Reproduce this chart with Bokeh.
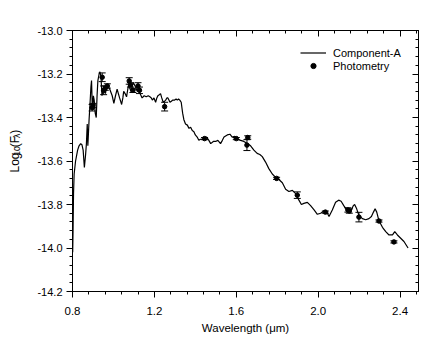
import math
from bokeh.plotting import figure
from bokeh.layouts import row
from bokeh.models import (ColumnDataSource, Whisker, TeeHead, LinearAxis, FixedTicker,
                          PrintfTickFormatter, Legend, LegendItem, CustomLabelingPolicy)
from bokeh.core.properties import value
from bokeh.embed import file_html
from bokeh.resources import INLINE

# ---- data ----
spec_wl = [0.801, 0.803, 0.805, 0.808, 0.815, 0.825, 0.832, 0.840, 0.846, 0.852, 0.858, 0.864,
           0.868, 0.872, 0.875, 0.879, 0.881, 0.886, 0.890, 0.893, 0.896, 0.899, 0.902, 0.906,
           0.911, 0.916, 0.920, 0.924, 0.930, 0.934, 0.939, 0.944, 0.950, 0.956, 0.961, 0.966,
           0.970, 0.976, 0.982, 0.988, 0.994, 1.002, 1.010, 1.018, 1.024, 1.030, 1.040, 1.046,
           1.050, 1.057, 1.064, 1.070, 1.075, 1.080, 1.085, 1.091, 1.097, 1.103, 1.108, 1.116,
           1.122, 1.130, 1.140, 1.150, 1.160, 1.170, 1.178, 1.185, 1.190, 1.198, 1.206, 1.212,
           1.217, 1.224, 1.230, 1.236, 1.243, 1.250, 1.255, 1.261, 1.266, 1.271, 1.276, 1.283,
           1.290, 1.299, 1.306, 1.312, 1.318, 1.324, 1.331, 1.338, 1.344, 1.352, 1.361, 1.369,
           1.377, 1.385, 1.393, 1.400, 1.409, 1.417, 1.425, 1.434, 1.442, 1.455, 1.466, 1.475,
           1.488, 1.499, 1.510, 1.523, 1.532, 1.540, 1.556, 1.569, 1.580, 1.592, 1.605, 1.621,
           1.637, 1.654, 1.670, 1.686, 1.702, 1.715, 1.727, 1.743, 1.759, 1.776, 1.792, 1.808,
           1.825, 1.841, 1.857, 1.874, 1.890, 1.906, 1.918, 1.930, 1.947, 1.963, 1.980, 1.996,
           2.012, 2.028, 2.045, 2.053, 2.069, 2.085, 2.100, 2.112, 2.125, 2.139, 2.150, 2.162,
           2.172, 2.178, 2.188, 2.199, 2.216, 2.232, 2.248, 2.260, 2.270, 2.278, 2.286, 2.297,
           2.314, 2.330, 2.346, 2.363, 2.374, 2.387, 2.403, 2.419, 2.439]
spec_flux = [-14.02, -13.90, -13.75, -13.66, -13.60, -13.55, -13.53, -13.52, -13.525, -13.55, -13.63, -13.57,
             -13.52, -13.43, -13.53, -13.45, -13.41, -13.33, -13.26, -13.23, -13.33, -13.36, -13.30, -13.32,
             -13.38, -13.40, -13.30, -13.23, -13.20, -13.19, -13.21, -13.30, -13.27, -13.28, -13.29, -13.26,
             -13.25, -13.26, -13.27, -13.285, -13.30, -13.335, -13.30, -13.27, -13.29, -13.31, -13.34, -13.31,
             -13.28, -13.29, -13.305, -13.27, -13.25, -13.265, -13.28, -13.26, -13.24, -13.25, -13.26, -13.28,
             -13.27, -13.29, -13.31, -13.30, -13.305, -13.30, -13.305, -13.31, -13.32, -13.31, -13.33, -13.31,
             -13.30, -13.295, -13.29, -13.31, -13.33, -13.325, -13.32, -13.31, -13.31, -13.32, -13.33, -13.325,
             -13.32, -13.32, -13.315, -13.32, -13.315, -13.32, -13.33, -13.38, -13.41, -13.43, -13.435, -13.45,
             -13.445, -13.46, -13.465, -13.48, -13.49, -13.505, -13.50, -13.50, -13.50, -13.49, -13.505, -13.52,
             -13.51, -13.51, -13.505, -13.52, -13.505, -13.49, -13.48, -13.477, -13.49, -13.487, -13.50, -13.505,
             -13.51, -13.52, -13.53, -13.55, -13.565, -13.57, -13.58, -13.605, -13.635, -13.66, -13.675, -13.685,
             -13.70, -13.73, -13.74, -13.735, -13.75, -13.78, -13.80, -13.795, -13.79, -13.805, -13.825, -13.845,
             -13.84, -13.83, -13.84, -13.855, -13.825, -13.79, -13.78, -13.785, -13.805, -13.825, -13.835, -13.825,
             -13.805, -13.80, -13.82, -13.85, -13.865, -13.87, -13.865, -13.855, -13.835, -13.82, -13.835, -13.875,
             -13.905, -13.925, -13.94, -13.94, -13.925, -13.94, -13.955, -13.97, -14.00]

phot_wl = [0.896, 0.900, 0.945, 0.952, 0.960, 0.970, 1.077, 1.083, 1.095, 1.120, 1.127, 1.250,
           1.445, 1.600, 1.656, 1.652, 1.797, 1.898, 2.035, 2.145, 2.152, 2.199, 2.297, 2.370]
phot_flux = [-13.355, -13.345, -13.215, -13.275, -13.265, -13.255, -13.232, -13.250, -13.275, -13.255, -13.275, -13.350,
             -13.497, -13.497, -13.492, -13.527, -13.680, -13.757, -13.835, -13.825, -13.830, -13.858, -13.876, -13.972]
phot_err = [0.015, 0.010, 0.020, 0.020, 0.010, 0.010, 0.015, 0.010, 0.010, 0.015, 0.015, 0.020,
            0.005, 0.005, 0.008, 0.025, 0.005, 0.015, 0.005, 0.010, 0.010, 0.022, 0.005, 0.005]

x_ticks = [0.8, 1.2, 1.6, 2.0, 2.4]
y_ticks = [-14.2, -14.0, -13.8, -13.6, -13.4, -13.2, -13.0]

FONT = "Liberation Sans"
X0, X1 = 0.8, 2.49
Y0, Y1 = -14.2, -13.0

x_minor = [round(X0 + 0.08 * i, 2) for i in range(22)]
y_minor = [round(Y0 + 0.04 * i, 2) for i in range(31)]

W, H = 436, 340
LW = 26

p = figure(width=W - LW, height=H, x_range=(X0, X1), y_range=(Y0, Y1),
           output_backend="svg", toolbar_location=None,
           min_border_left=72 - LW, min_border_right=18, min_border_top=30, min_border_bottom=49)
p.grid.visible = False
p.outline_line_color = "black"
p.outline_line_width = 1
p.background_fill_color = "white"
p.border_fill_color = "white"

line_r = p.line(spec_wl, spec_flux, line_color="black", line_width=1.2)

src = ColumnDataSource(dict(x=phot_wl, y=phot_flux,
                            upper=[f + e for f, e in zip(phot_flux, phot_err)],
                            lower=[f - e for f, e in zip(phot_flux, phot_err)]))
wh = Whisker(source=src, base="x", upper="upper", lower="lower", dimension="height",
             line_color="black", line_width=1,
             upper_head=TeeHead(size=7, line_color="black", line_width=1),
             lower_head=TeeHead(size=7, line_color="black", line_width=1))
p.add_layout(wh)
pt_r = p.scatter("x", "y", source=src, size=4.5, marker="circle", fill_color="black", line_color="black")

hide_all = CustomLabelingPolicy(code="""
    const all = [...indices]
    for (const i of all) indices.unset(i)
    return indices
""")

def style_axis(ax, inward=False, fs="11px"):
    ax.axis_line_color = "black"
    ax.major_tick_line_color = "black"
    ax.minor_tick_line_color = "black"
    if inward:
        ax.major_tick_in = 6
        ax.major_tick_out = 0
        ax.minor_tick_in = 3
        ax.minor_tick_out = 0
        ax.major_label_policy = hide_all
        ax.major_label_text_font_size = "1px"
        ax.major_label_standoff = 0
    else:
        ax.major_tick_in = 0
        ax.major_tick_out = 6
        ax.minor_tick_in = 0
        ax.minor_tick_out = 3
        ax.major_label_text_font_size = fs
        ax.major_label_text_font = FONT
        ax.major_label_text_color = "black"
    ax.formatter = PrintfTickFormatter(format="%.1f")

p.xaxis.ticker = FixedTicker(ticks=x_ticks, minor_ticks=x_minor)
p.yaxis.ticker = FixedTicker(ticks=y_ticks, minor_ticks=y_minor)
style_axis(p.xaxis[0], fs="11.5px")
style_axis(p.yaxis[0], fs="11px")
p.xaxis.major_label_standoff = 9
p.yaxis.major_label_standoff = 4

p.xaxis.axis_label = "Wavelength (\u03bcm)"
p.xaxis.axis_label_text_font = FONT
p.xaxis.axis_label_text_font_size = "11.5px"
p.xaxis.axis_label_text_font_style = "normal"
p.xaxis.axis_label_text_color = "black"
p.xaxis.axis_label_standoff = 4

top = LinearAxis(ticker=FixedTicker(ticks=x_ticks, minor_ticks=x_minor))
right = LinearAxis(ticker=FixedTicker(ticks=y_ticks, minor_ticks=y_minor))
style_axis(top, inward=True)
style_axis(right, inward=True)
p.add_layout(top, "above")
p.add_layout(right, "right")

legend = Legend(items=[LegendItem(label="Component-A", renderers=[line_r]),
                       LegendItem(label="Photometry", renderers=[pt_r])],
                location=(228, 219), border_line_alpha=0, background_fill_alpha=0,
                label_text_font=FONT, label_text_font_size="11px", label_text_color="black",
                glyph_width=26, glyph_height=13, label_height=13, label_standoff=7,
                spacing=0, padding=0, margin=0)
p.add_layout(legend)

# ---- narrow strip holding the y-axis title (with subscripts) ----
lab = figure(width=LW, height=H, x_range=(0, LW), y_range=(0, H),
             output_backend="svg", toolbar_location=None,
             x_axis_type=None, y_axis_type=None, min_border=0)
lab.grid.visible = False
lab.outline_line_color = None
lab.background_fill_color = "white"
lab.border_fill_color = "white"
title_src = ColumnDataSource(dict(
    x=[14.0, 16.5, 14.0, 16.5, 14.0],
    y=[H - 185.0, H - 163.0, H - 152.0, H - 140.0, H - 134.5],
    t=["Log", "10", "(F", "\u03bb", ")"],
    fs=["12px", "8.5px", "12px", "8.5px", "12px"]))
lab.text(x="x", y="y", text="t", source=title_src, angle=math.pi / 2,
         text_font=value(FONT), text_font_size="fs", text_color="black",
         text_align="left", text_baseline="alphabetic")

layout = row(lab, p)
open("out.html", "w").write(file_html(layout, INLINE))
